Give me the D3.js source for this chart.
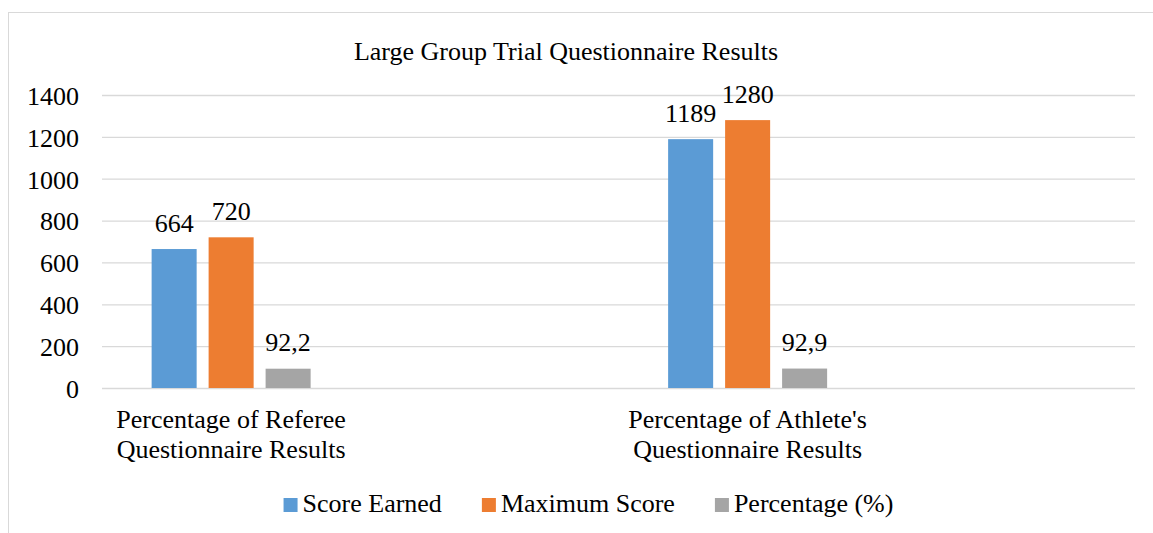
<!DOCTYPE html>
<html>
<head>
<meta charset="utf-8">
<script src="https://cdn.jsdelivr.net/npm/d3@7"></script>
<style>
  body { margin: 0; background: #fff; }
</style>
</head>
<body>
<div id="chart"></div>
<script>
// chart data (two empty slots between the categories, as in the original sheet)
var categories = [
  ["Percentage of Referee", "Questionnaire Results"],
  [],
  ["Percentage of Athlete's", "Questionnaire Results"],
  []
];
var series = ["Score Earned", "Maximum Score", "Percentage (%)"];
var scoreEarned = [664, null, 1189, null];
var maximumScore = [720, null, 1280, null];
var percentage = [92.2, null, 92.9, null];
var yTicks = [0, 200, 400, 600, 800, 1000, 1200, 1400];
var colors = ["#5B9BD5", "#ED7D31", "#A5A5A5"];
var title = "Large Group Trial Questionnaire Results";

var W = 1153, H = 533;
var plot = {left: 102, right: 1135, top: 95, bottom: 388};
var FONT = "'Liberation Serif'";

// every text gets the same serif font and size
function styleText(sel) {
  return sel.style("font-family", FONT)
      .style("font-size", "26px")
      .attr("fill", "#000");
}

var svg = d3.select("#chart").append("svg")
    .attr("width", W)
    .attr("height", H);

// outer chart border
svg.append("rect")
    .attr("x", 8.5).attr("y", 12.5)
    .attr("width", 1170).attr("height", 560)
    .attr("fill", "#fff")
    .attr("stroke", "#d9d9d9")
    .attr("stroke-width", 1);

// title
svg.append("text")
    .attr("x", 566).attr("y", 60)
    .attr("text-anchor", "middle")
    .call(styleText)
    .text(title);

var x0 = d3.scaleBand()
    .domain(d3.range(categories.length))
    .range([plot.left, plot.right]);

var x1 = d3.scaleBand()
    .domain(series)
    .range([-79.5, 79.5])
    .paddingInner(0.21);

var y = d3.scaleLinear()
    .domain([0, 1400])
    .range([plot.bottom, plot.top]);

// y axis with gridlines
var yAxis = svg.append("g")
    .attr("transform", "translate(" + plot.left + ",0)")
    .call(d3.axisLeft(y)
        .tickValues(yTicks)
        .tickFormat(d3.format("d"))
        .tickSize(-(plot.right - plot.left))
        .tickPadding(23));
yAxis.select(".domain").remove();
yAxis.selectAll(".tick line")
    .attr("stroke", "#d9d9d9")
    .attr("stroke-width", 1.3);
yAxis.selectAll(".tick text")
    .call(styleText)
    .attr("dy", "0.36em");

// build rows for the bars
var valuesBySeries = [scoreEarned, maximumScore, percentage];
var rows = [];
categories.forEach(function(c, i) {
  series.forEach(function(s, j) {
    var v = valuesBySeries[j][i];
    if (v != null) rows.push({cat: i, series: s, idx: j, value: v});
  });
});

svg.selectAll("rect.bar")
    .data(rows)
    .enter().append("rect")
    .attr("class", "bar")
    .attr("x", function(d) { return x0(d.cat) + x0.bandwidth() / 2 + x1(d.series); })
    .attr("y", function(d) { return y(d.value); })
    .attr("width", x1.bandwidth())
    .attr("height", function(d) { return y(0) - y(d.value); })
    .attr("fill", function(d) { return colors[d.idx]; });

// data labels
svg.selectAll("text.lbl")
    .data(rows)
    .enter().append("text")
    .attr("class", "lbl")
    .attr("x", function(d) { return x0(d.cat) + x0.bandwidth() / 2 + x1(d.series) + x1.bandwidth() / 2; })
    .attr("y", function(d) { return y(d.value) - 17.5; })
    .attr("text-anchor", "middle")
    .call(styleText)
    .text(function(d) { return String(d.value).replace(".", ","); });

// category labels
categories.forEach(function(lines, i) {
  lines.forEach(function(line, k) {
    svg.append("text")
        .attr("x", x0(i) + x0.bandwidth() / 2)
        .attr("y", 428 + k * 29.5)
        .attr("text-anchor", "middle")
        .call(styleText)
        .text(line);
  });
});

// legend, laid out from measured text widths and centred
var legend = svg.append("g");
var lx = 0;
series.forEach(function(s, j) {
  var g = legend.append("g").attr("transform", "translate(" + lx + ",0)");
  g.append("rect")
      .attr("x", 0).attr("y", 498)
      .attr("width", 14).attr("height", 14)
      .attr("fill", colors[j]);
  var t = g.append("text")
      .attr("x", 19).attr("y", 512)
      .call(styleText)
      .text(s);
  lx += 19 + t.node().getComputedTextLength() + 40;
});
var legendWidth = lx - 40;
legend.attr("transform", "translate(" + (588.5 - legendWidth / 2) + ",0)");
</script>
</body>
</html>
